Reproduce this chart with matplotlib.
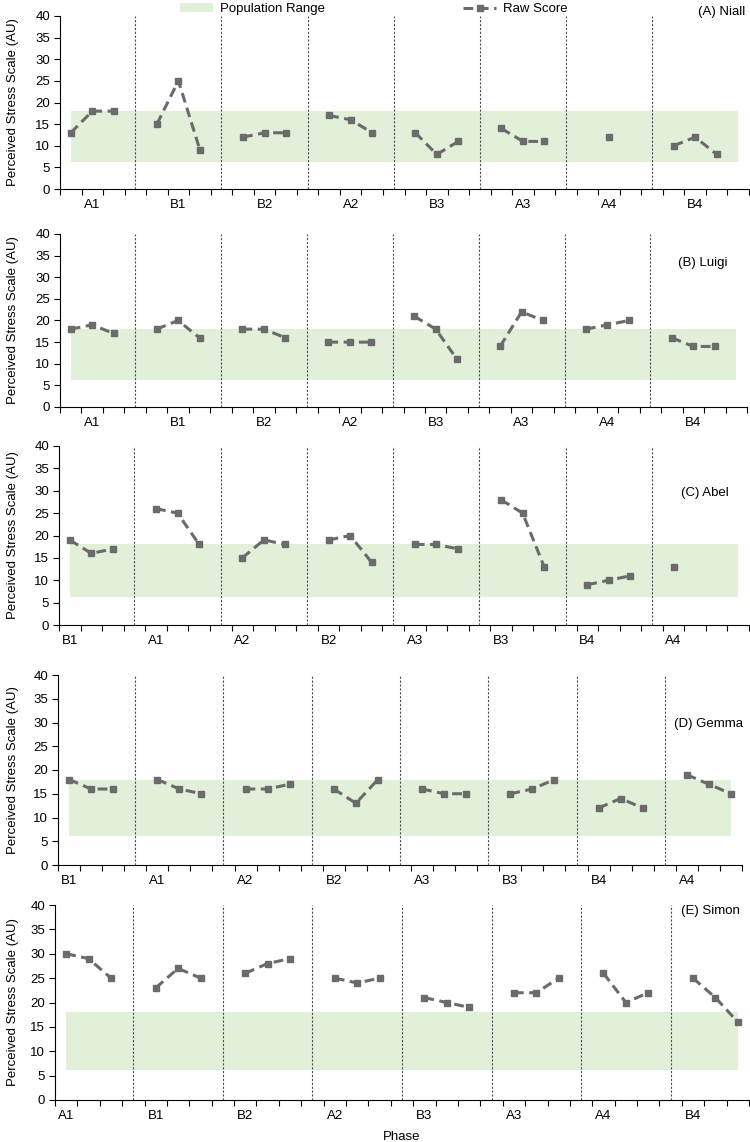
import numpy as np
import matplotlib
matplotlib.use("Agg")
import matplotlib.pyplot as plt

plt.rcParams['font.family'] = ['Liberation Sans', 'DejaVu Sans']

W, H = 750, 1142   # figure size in pixels

# population range band (AU)
band_low = 6.2
band_high = 18

# raw scores, three sessions per phase (None = no session)
niall_phases = ["A1", "B1", "B2", "A2", "B3", "A3", "A4", "B4"]
niall_scores = [[13, 18, 18], [15, 25, 9], [12, 13, 13], [17, 16, 13],
                [13, 8, 11], [14, 11, 11], [None, 12, None], [10, 12, 8]]

luigi_phases = ["A1", "B1", "B2", "A2", "B3", "A3", "A4", "B4"]
luigi_scores = [[18, 19, 17], [18, 20, 16], [18, 18, 16], [15, 15, 15],
                [21, 18, 11], [14, 22, 20], [18, 19, 20], [16, 14, 14]]

abel_phases = ["B1", "A1", "A2", "B2", "A3", "B3", "B4", "A4"]
abel_scores = [[19, 16, 17], [26, 25, 18], [15, 19, 18], [19, 20, 14],
               [18, 18, 17], [28, 25, 13], [9, 10, 11], [13, None, None]]

gemma_phases = ["B1", "A1", "A2", "B2", "A3", "B3", "B4", "A4"]
gemma_scores = [[18, 16, 16], [18, 16, 15], [16, 16, 17], [16, 13, 18],
                [16, 15, 15], [15, 16, 18], [12, 14, 12], [19, 17, 15]]

simon_phases = ["A1", "B1", "B2", "A2", "B3", "A3", "A4", "B4"]
simon_scores = [[30, 29, 25], [23, 27, 25], [26, 28, 29], [25, 24, 25],
                [21, 20, 19], [22, 22, 25], [26, 20, 22], [25, 21, 16]]

# panel layout: (name, phases, scores, n slots, label slot, box in px (l, r, t, b), title pos)
panels = [
    ("(A) Niall", niall_phases, niall_scores, 32, 1, (60, 749, 16, 189), (745, 12)),
    ("(B) Luigi", luigi_phases, luigi_scores, 32, 1, (60, 747, 234, 407), (728, 263)),
    ("(C) Abel", abel_phases, abel_scores, 32, 0, (59, 749, 446, 625), (729, 493)),
    ("(D) Gemma", gemma_phases, gemma_scores, 31, 0, (58, 742, 675, 865), (743, 724)),
    ("(E) Simon", simon_phases, simon_scores, 31, 0, (55, 749, 905, 1100), (740, 911)),
]

line_col = "#6b6b6b"
band_col = "#e2efd9"
div_col = "#505050"

fig = plt.figure(figsize=(W / 100, H / 100), dpi=100)

def box(l, r, t, b):
    return [l / W, 1 - b / H, (r - l) / W, (b - t) / H]

for k, (title, phases, scores, nslots, lab_off, (l, r, t, b), (tx, ty)) in enumerate(panels):
    ax = fig.add_axes(box(l, r, t, b))
    xs = np.arange(nslots)
    ys = np.full(nslots, np.nan)
    for i, ph in enumerate(scores):
        for j, v in enumerate(ph):
            if v is not None:
                ys[4 * i + j] = v

    band = ax.fill_between(xs, band_low, band_high, color=band_col, lw=0,
                           label="Population Range", zorder=1)
    for i in range(len(phases) - 1):
        ax.axvline(4 * i + 3, color=div_col, lw=0.8, ls=(0, (2, 1.5)), zorder=2)
    ln, = ax.plot(xs, ys, color=line_col, lw=2.2, dashes=(3.2, 1.8),
                  marker="s", ms=4.8, mec=line_col, mfc=line_col,
                  label="Raw Score", zorder=3)

    ax.set_xlim(-0.5, nslots - 0.5)
    ax.set_ylim(0, 40)
    ax.set_yticks(range(0, 41, 5))
    ax.set_xticks([4 * i + lab_off for i in range(len(phases))])
    ax.set_xticklabels(phases)
    ax.set_xticks(np.arange(-0.5, nslots, 1), minor=True)
    ax.tick_params(axis="x", which="major", length=0, pad=7, labelsize=9.5)
    ax.tick_params(axis="x", which="minor", length=4, width=0.8, direction="out")
    ax.tick_params(axis="y", length=4, width=0.8, direction="out", pad=3, labelsize=9.5)
    for s in ["top", "right"]:
        ax.spines[s].set_visible(False)
    for s in ["left", "bottom"]:
        ax.spines[s].set_linewidth(0.8)

    ax.set_ylabel("Perceived Stress Scale (AU)", fontsize=9.5)
    ax.yaxis.set_label_coords((19 - l) / (r - l), 0.5)

    fig.text(tx / W, 1 - ty / H, title, ha="right", va="center", fontsize=9.5)

    if k == 0:
        fig.legend(handles=[band, ln], loc="upper left",
                   bbox_to_anchor=(180 / W, 1 - 3 / H), ncol=2, frameon=False,
                   fontsize=9.5, borderpad=0, borderaxespad=0,
                   handlelength=2.5, handletextpad=0.5, columnspacing=10.5)

fig.text(402 / W, 1 - 1137 / H, "Phase", ha="center", va="center", fontsize=9.5)

fig.savefig("out.png", dpi=100)
